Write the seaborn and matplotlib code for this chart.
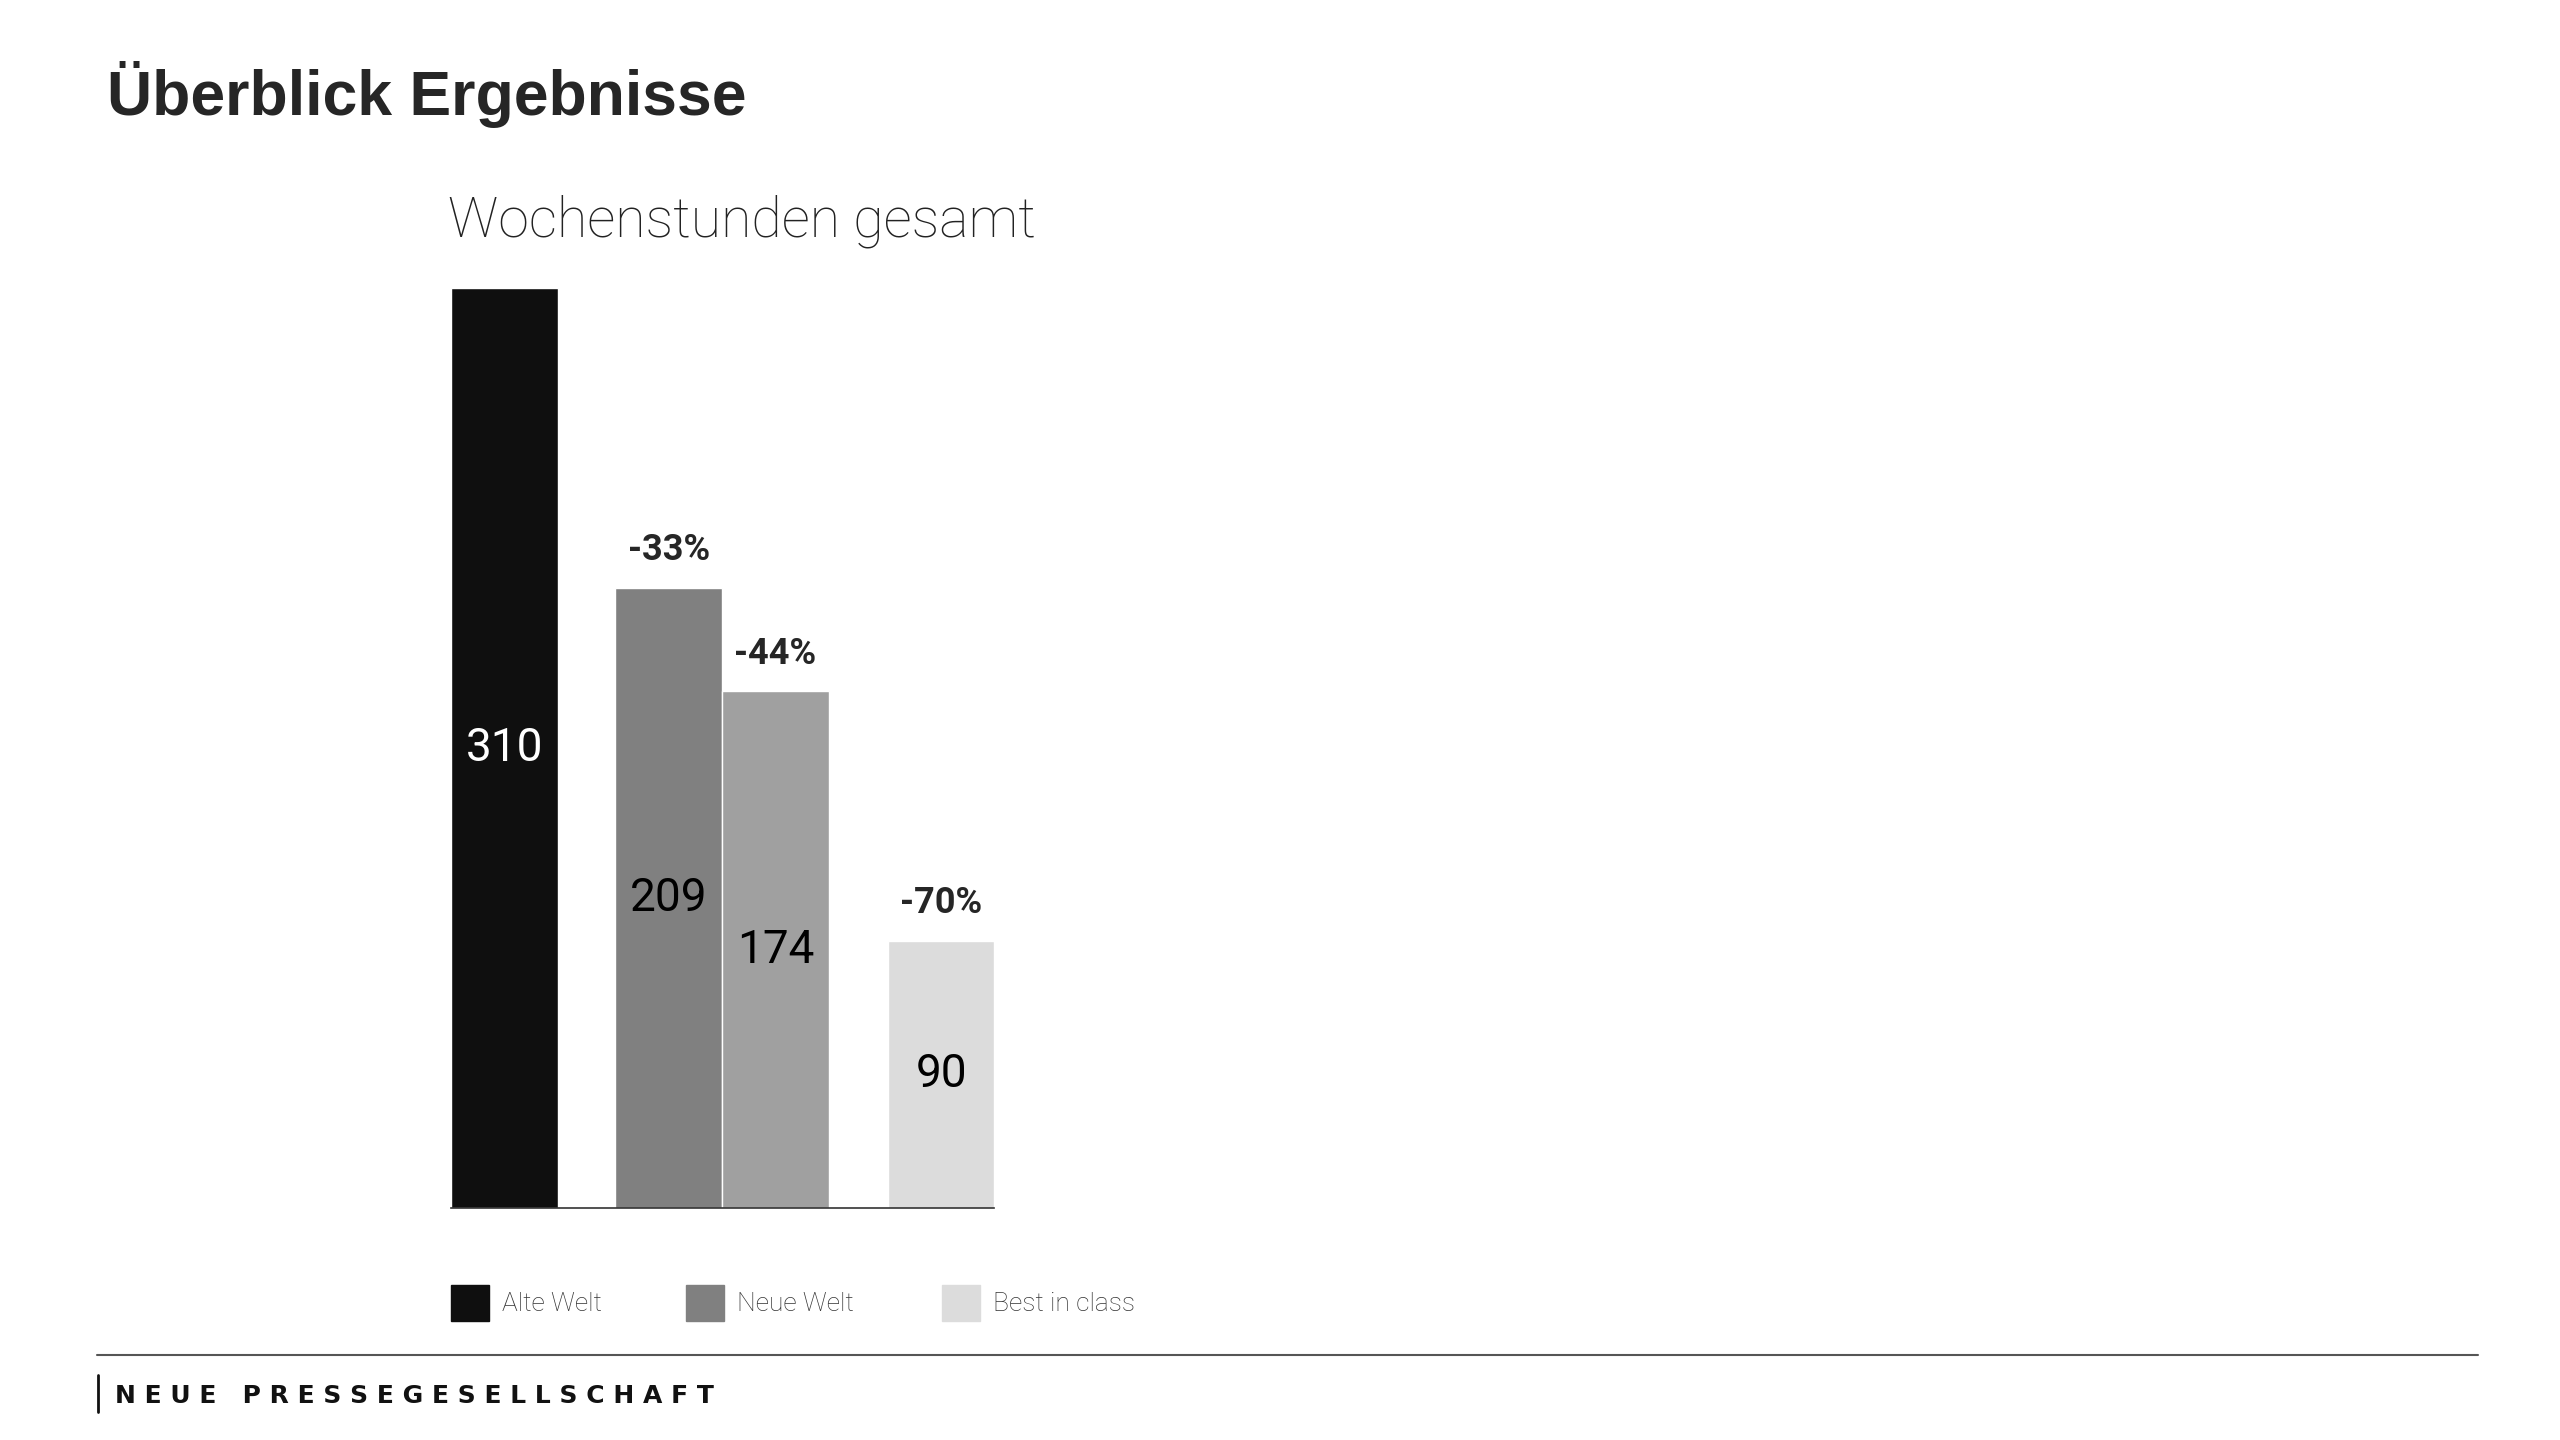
import matplotlib.pyplot as plt
import matplotlib.patches as mpatches
import seaborn as sns

# Daten
categories = ["Alte Welt", "Neue Welt", "Neue Welt", "Best in class"]
values = [310, 209, 174, 90]
changes = ["", "-33%", "-44%", "-70%"]
colors = ["#0f0f0f", "#808080", "#a0a0a0", "#dcdcdc"]
label_colors = ["white", "black", "black", "black"]
legend_labels = ["Alte Welt", "Neue Welt", "Best in class"]
legend_colors = ["#0f0f0f", "#808080", "#dcdcdc"]

sns.set_theme(style="white")
fig = plt.figure(figsize=(25.6, 14.4), dpi=100)
W, H = 1560, 880  # Referenz-Koordinaten

def fx(x):
    return x / W

def fy(y):
    return 1 - y / H

ax = fig.add_axes([fx(275), fy(738), fx(606) - fx(275), fy(176) - fy(738)])
pos = [0, 100 / 65 * 1, 165 / 65, 266 / 65]
pos = [p + 0.5 for p in pos]
ax.bar(pos, values, width=1.0, color=colors)
ax.set_xlim(0, pos[-1] + 0.5)
ax.set_ylim(0, 310)
for s in ["top", "right", "left"]:
    ax.spines[s].set_visible(False)
ax.spines["bottom"].set_color("#333333")
ax.spines["bottom"].set_linewidth(1.2)
ax.set_xticks([])
ax.set_yticks([])

for p, v, c, lc in zip(pos, values, changes, label_colors):
    ax.text(p, v / 2, str(v), ha="center", va="center", color=lc,
            fontsize=33, family="Roboto")
    if c:
        ax.annotate(c, (p, v), xytext=(0, 14), textcoords="offset points",
                    ha="center", va="bottom", fontsize=26, fontweight="bold",
                    family="Roboto")

fig.text(fx(65), fy(58), "Überblick Ergebnisse", fontsize=45, fontweight="bold",
         family="Liberation Sans", va="center")
fig.text(fx(273), fy(135), "Wochenstunden gesamt", fontsize=40,
         family="Roboto", fontweight="light", va="center", color="#222222")

# Legende
lx = [275, 418, 574]
for x, lab, col in zip(lx, legend_labels, legend_colors):
    fig.patches.append(mpatches.Rectangle((fx(x), fy(807)), fx(23), fy(785) - fy(807),
                                          transform=fig.transFigure, color=col))
    fig.text(fx(x + 31), fy(797), lab, fontsize=19, family="Roboto",
             fontweight="light", va="center", color="#333333")

# Fusszeile
fig.add_artist(plt.Line2D([fx(59), fx(1510)], [fy(828), fy(828)],
                          transform=fig.transFigure, color="#555555", lw=1.5))
fig.add_artist(plt.Line2D([fx(60), fx(60)], [fy(840), fy(863)],
                          transform=fig.transFigure, color="#111111", lw=2))
fig.text(fx(70), fy(853), "N E U E   P R E S S E G E S E L L S C H A F T",
         fontsize=18, fontweight="bold", family="DejaVu Sans Condensed",
         va="center", color="#111111")

fig.savefig("out.png", dpi=100)
